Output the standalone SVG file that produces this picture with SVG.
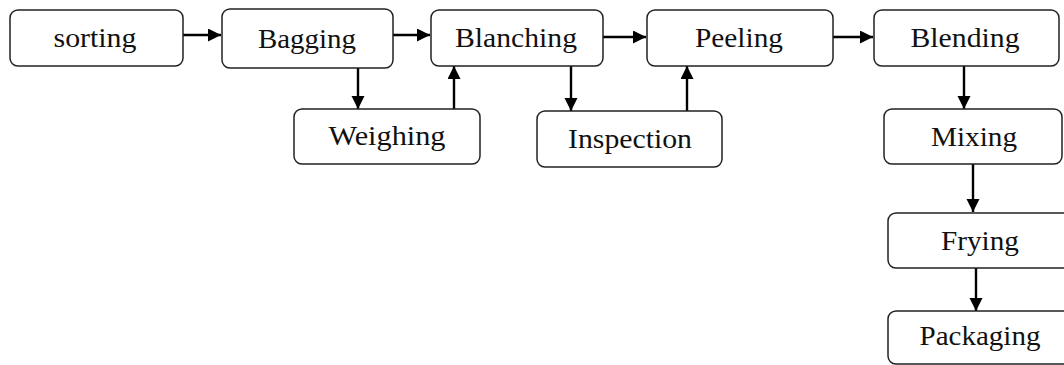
<svg xmlns="http://www.w3.org/2000/svg" width="1064" height="365" viewBox="0 0 1064 365">
<style>
.box{fill:#fff;stroke:#222;stroke-width:1.5}
.lbl{font-family:"Liberation Serif","Times New Roman",serif;font-size:27px;fill:#111;text-anchor:middle}
.con{stroke:#000;stroke-width:2.4;fill:none;marker-end:url(#ah)}
</style>
<defs>
<marker id="ah" markerUnits="userSpaceOnUse" markerWidth="14" markerHeight="14" refX="13" refY="6.5" orient="auto">
<path d="M0,0 L13,6.5 L0,13 z" fill="#000"/>
</marker>
</defs>
<rect width="1064" height="365" fill="#fff"/>
<g id="connectors">
<line class="con" x1="183" y1="35" x2="221" y2="35"/>
<line class="con" x1="393" y1="35" x2="430" y2="35"/>
<line class="con" x1="358" y1="68" x2="358" y2="109"/>
<line class="con" x1="454" y1="109" x2="454" y2="66"/>
<line class="con" x1="571" y1="66" x2="571" y2="111"/>
<line class="con" x1="687" y1="111" x2="687" y2="66"/>
<line class="con" x1="603" y1="37" x2="646" y2="37"/>
<line class="con" x1="833" y1="37" x2="873" y2="37"/>
<line class="con" x1="964" y1="66" x2="964" y2="109"/>
<line class="con" x1="973" y1="164" x2="973" y2="212"/>
<line class="con" x1="976" y1="268" x2="976" y2="311"/>
</g>
<g id="sorting"><rect class="box" x="10" y="10" width="173" height="56" rx="8"/><text class="lbl" x="95" y="47" textLength="83" lengthAdjust="spacingAndGlyphs">sorting</text></g>
<g id="bagging"><rect class="box" x="222" y="9" width="171" height="59" rx="8"/><text class="lbl" x="307" y="48" textLength="98" lengthAdjust="spacingAndGlyphs">Bagging</text></g>
<g id="blanching"><rect class="box" x="431" y="10" width="172" height="56" rx="8"/><text class="lbl" x="516" y="47" textLength="122" lengthAdjust="spacingAndGlyphs">Blanching</text></g>
<g id="peeling"><rect class="box" x="647" y="10" width="186" height="56" rx="8"/><text class="lbl" x="739" y="47" textLength="88" lengthAdjust="spacingAndGlyphs">Peeling</text></g>
<g id="blending"><rect class="box" x="874" y="10" width="185" height="56" rx="8"/><text class="lbl" x="965" y="47" textLength="109" lengthAdjust="spacingAndGlyphs">Blending</text></g>
<g id="weighing"><rect class="box" x="294" y="109" width="186" height="55" rx="8"/><text class="lbl" x="387" y="145" textLength="117" lengthAdjust="spacingAndGlyphs">Weighing</text></g>
<g id="inspection"><rect class="box" x="537" y="111" width="185" height="56" rx="8"/><text class="lbl" x="630" y="148" textLength="124" lengthAdjust="spacingAndGlyphs">Inspection</text></g>
<g id="mixing"><rect class="box" x="884" y="109" width="178" height="55" rx="8"/><text class="lbl" x="974" y="146" textLength="86" lengthAdjust="spacingAndGlyphs">Mixing</text></g>
<g id="frying"><rect class="box" x="888" y="213" width="190" height="55" rx="8"/><text class="lbl" x="980" y="250" textLength="78" lengthAdjust="spacingAndGlyphs">Frying</text></g>
<g id="packaging"><rect class="box" x="888" y="311" width="190" height="53" rx="8"/><text class="lbl" x="980" y="345" textLength="121" lengthAdjust="spacingAndGlyphs">Packaging</text></g>
</svg>
